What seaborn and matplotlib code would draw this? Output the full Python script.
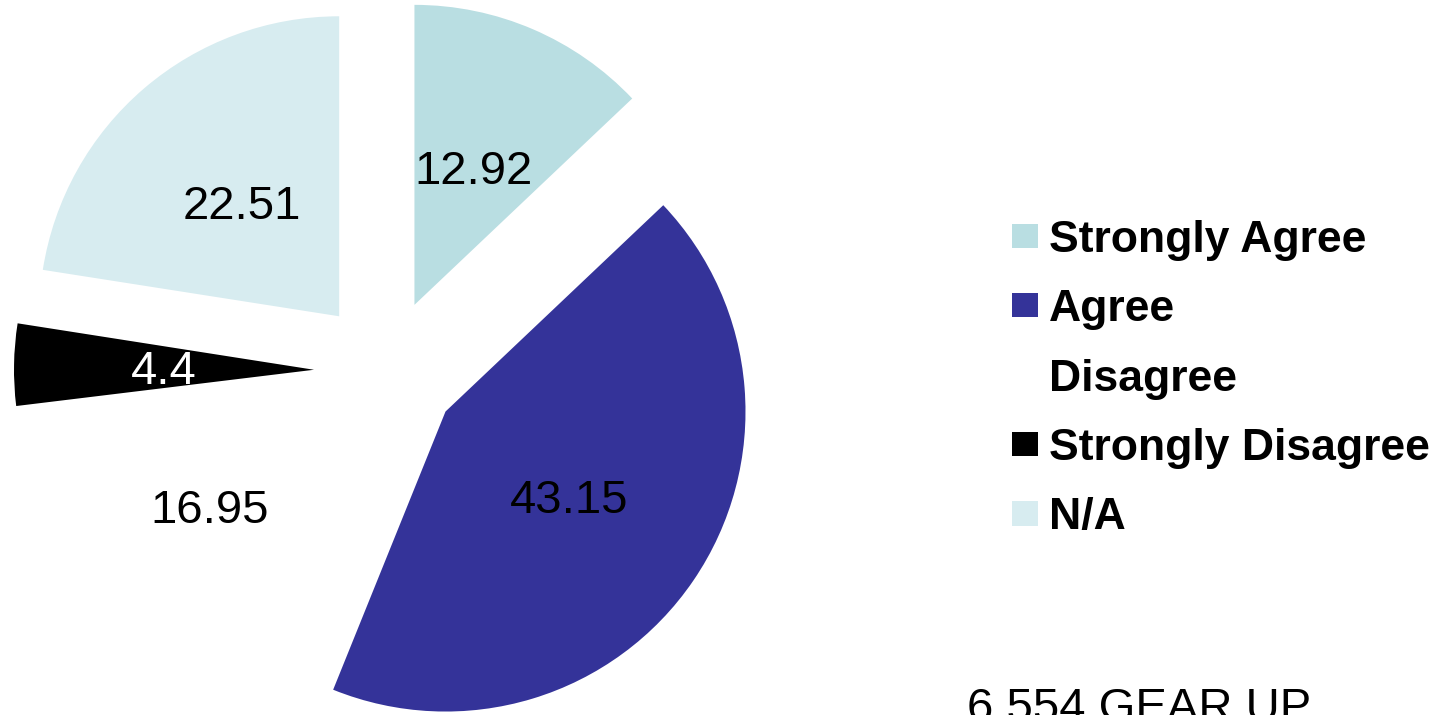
import numpy as np
import matplotlib
matplotlib.use("Agg")
import matplotlib.pyplot as plt
import seaborn as sns

# ---------------------------------------------------------------------------
# Data
# ---------------------------------------------------------------------------
categories = ["Strongly Agree", "Agree", "Disagree", "Strongly Disagree", "N/A"]
values     = [12.92, 43.15, 16.95, 4.4, 22.51]
colors     = ["#B9DEE2", "#343399", "#FFFFFF", "#000000", "#D7ECF0"]
label_colors = ["black", "black", "black", "white", "black"]
footnote   = "6,554 GEAR UP"

# ---------------------------------------------------------------------------
# Figure (pixel-sized data space, y up)
# ---------------------------------------------------------------------------
W, H = 1445, 715
sns.set_theme(style="white")
plt.rcParams["font.family"] = ["Liberation Sans", "DejaVu Sans"]
plt.rcParams["text.color"] = "black"

fig = plt.figure(figsize=(W / 100, H / 100), dpi=100)
ax = fig.add_axes([0, 0, 1, 1])

total = sum(values)

def fmt(p):
    v = round(p * total / 100.0, 2)
    return f"{v:g}"

wedges, texts, autotexts = ax.pie(
    values,
    colors=colors,
    explode=[72] * len(values),
    center=(386, H - 371),
    radius=300,
    startangle=90,
    counterclock=False,
    autopct=fmt,
    pctdistance=0.5,
    wedgeprops=dict(linewidth=0, edgecolor="none"),
    textprops=dict(fontsize=34),
    frame=True,
)
ax.set_xlim(0, W)
ax.set_ylim(0, H)
ax.set_aspect("equal")
ax.axis("off")

for t, c in zip(autotexts, label_colors):
    t.set_color(c)
    t.set_va("center_baseline")

leg = ax.legend(
    wedges, categories,
    loc="center left",
    bbox_to_anchor=(1012 / W, 1 - 379 / H),
    bbox_transform=fig.transFigure,
    frameon=False,
    borderpad=0, borderaxespad=0,
    handlelength=0.58, handleheight=0.47,
    handletextpad=0.25, labelspacing=0.64,
    prop=dict(size=32, weight="bold"),
)
for txt in leg.get_texts():
    txt.set_color("black")

fig.text(967 / W, -6 / H, footnote, fontsize=34, ha="left", va="baseline",
         color="black")

fig.savefig("out.png", dpi=100)
plt.close(fig)
